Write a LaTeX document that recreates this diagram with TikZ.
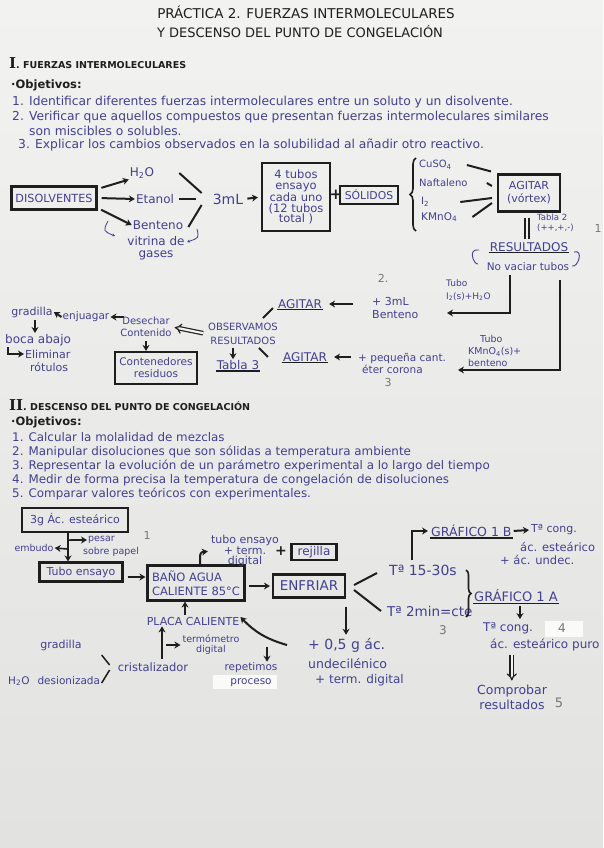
\documentclass[tikz,border=0pt]{standalone}
\usepackage{fontspec}
\setmainfont{DejaVu Sans}
\newfontfamily\romfont{DejaVu Serif}
\usetikzlibrary{positioning,arrows.meta,decorations.pathreplacing}

\definecolor{ink}{RGB}{66,64,145}
\definecolor{pen}{RGB}{30,30,30}
\definecolor{pencil}{RGB}{118,118,118}
\definecolor{paper}{RGB}{242,242,240}
\definecolor{paperdark}{RGB}{226,226,225}
\definecolor{patch}{RGB}{250,250,249}

\newcommand{\fs}[2]{\fontsize{#1}{#2}\selectfont}

\begin{document}
\begin{tikzpicture}[x=1pt,y=-1pt,
	txt/.style={text=ink,inner sep=1pt,font=\fs{11}{12}},
	obj/.style={txt,anchor=west,font=\fs{12.3}{13}},
	objb/.style={txt,anchor=west,font=\fs{11.9}{13}},
	head/.style={text=pen,inner sep=1pt,font=\bfseries\fs{9.5}{11}},
	box/.style={draw=pen,line width=2.1pt,text=ink,inner sep=2pt},
	arr/.style={draw=pen,line width=2pt,-{Stealth[length=6pt,width=7pt]}},
	ln/.style={draw=pen,line width=2pt},
	dbl/.style={draw=pen,double=paper,double distance=2.2pt,line width=1.2pt,-{Implies}},
	num/.style={text=pencil,inner sep=1pt,font=\fs{11}{12}},
	hook/.style={draw=ink,line width=0.8pt,-{Stealth[length=3pt,width=3pt]}},
]
	\shade[top color=paper,bottom color=paperdark] (0,0) rectangle (603,848);
	\useasboundingbox (0,0) rectangle (603,848);

	% titulo
	\node[text=pen,font=\fs{13.5}{14}] (tit1) at (306,12) {PRÁCTICA 2. FUERZAS INTERMOLECULARES};
	\node[text=pen,font=\fs{13}{14}] (tit2) at (300,32) {Y DESCENSO DEL PUNTO DE CONGELACIÓN};

	% parte I
	\node[head,anchor=west] (secI) at (8,63) {{\romfont\fs{15}{15}I}. FUERZAS INTERMOLECULARES};
	\node[head,anchor=west,font=\bfseries\fs{11.5}{12}] (objI) at (10,85) {·Objetivos:};
	\node[obj] (o11) at (11,102) {1. Identificar diferentes fuerzas intermoleculares entre un soluto y un disolvente.};
	\node[obj] (o12) at (11,117) {2. Verificar que aquellos compuestos que presentan fuerzas intermoleculares similares};
	\node[obj] (o13) at (28,131) {son miscibles o solubles.};
	\node[obj] (o14) at (17,145) {3. Explicar los cambios observados en la solubilidad al añadir otro reactivo.};

	\node[box,font=\fs{11.2}{12},minimum width=85pt,minimum height=23pt] (disolv) at (54,198) {DISOLVENTES};
	\node[txt,font=\fs{12}{12}] (h2o) at (142,173) {H\textsubscript{2}O};
	\node[txt,font=\fs{12}{12}] (etanol) at (155,199) {Etanol};
	\node[txt,font=\fs{12}{12}] (bent) at (158,225) {Benteno};
	\node[txt,align=center,font=\fs{12}{12}] (vitrina) at (156,248) {vitrina de\\gases};
	\draw[arr,shorten <=4pt] ([yshift=9pt]disolv.east) -- (h2o.south west);
	\draw[arr,shorten <=4pt] (disolv.east) -- (etanol.west);
	\draw[arr,shorten <=4pt] ([yshift=-10pt]disolv.east) -- (bent.west);
	\coordinate (cv1) at (108,221);
	\coordinate (cv2) at (197,229);
	\draw[hook] (cv1) .. controls (103,231) .. (115,236);
	\draw[hook] (cv2) .. controls (199,238) .. (187,242);

	\node[txt,font=\fs{14}{14}] (tresml) at (228,199) {3mL};
	\draw[ln] ([xshift=24pt]h2o.east) -- ([shift={(-10pt,6pt)}]tresml.west);
	\draw[ln] ([xshift=4pt]etanol.east) -- ([xshift=-16pt]tresml.west);
	\draw[ln] ([shift={(4pt,-2pt)}]bent.east) -- ([shift={(-10pt,-6pt)}]tresml.west);

	\node[box,align=center,font=\fs{11.5}{10.8},minimum width=68pt,minimum height=68pt] (tubos) at (296,197) {4 tubos\\ensayo\\cada uno\\(12 tubos\\total )};
	\draw[arr,shorten <=3pt,shorten >=3pt] (tresml.east) -- (tubos.west);
	\node[text=pen,font=\bfseries\fs{15}{15}] (plus1) at (336,195) {+};
	\node[box,font=\fs{10.8}{11},minimum width=58pt,minimum height=18pt] (solidos) at (369,195) {SÓLIDOS};
	\draw[ln,line width=1.6pt,decorate,decoration={brace,amplitude=6pt}] (416,231) -- (416,158);

	\node[txt,anchor=west,font=\fs{10}{10}] (cuso) at (418,165) {CuSO\textsubscript{4}};
	\node[txt,anchor=west,font=\fs{10}{10}] (naft) at (418,183) {Naftaleno};
	\node[txt,anchor=west,font=\fs{10}{10}] (iodo) at (420,202) {I\textsubscript{2}};
	\node[txt,anchor=west,font=\fs{10.5}{10}] (kmno) at (420,217) {KMnO\textsubscript{4}};

	\node[box,align=center,font=\fs{11}{13},minimum width=62pt,minimum height=37pt] (agit1) at (529,193) {AGITAR\\(vórtex)};
	\draw[ln] ([xshift=14pt]cuso.east) -- ([shift={(-6pt,2pt)}]agit1.north west);
	\draw[ln] ([xshift=18pt]naft.east) -- ([shift={(-5pt,7pt)}]agit1.west);
	\draw[ln] ([xshift=30pt]iodo.east) -- ([shift={(-5pt,-5pt)}]agit1.west);
	\draw[ln] ([xshift=14pt]kmno.east) -- ([shift={(-5pt,-10pt)}]agit1.west);

	\node[txt,anchor=west,align=left,font=\fs{8.5}{10}] (tab2) at (536,223) {Tabla 2\\(++,+,-)};
	\node[num] (n1) at (598,228) {1};
	\node[txt,font=\fs{12}{12}] (result) at (529,247) {RESULTADOS};
	\draw[ln,line width=1.5pt] (result.south west) -- (result.south east);
	\node[txt,font=\fs{10.5}{10}] (novac) at (528,267) {No vaciar tubos};
	\draw[draw=pen,double=paper,double distance=2.5pt,line width=1.3pt,shorten <=5pt,shorten >=2pt] ([xshift=-2pt]agit1.south) -- ([xshift=-2pt]result.north);
	\coordinate (pl) at (479,250);
	\coordinate (pr) at (574,252);
	\draw[draw=ink,line width=0.9pt] (pl) .. controls +(-12pt,2pt) and +(-4pt,-1pt) .. ([shift={(-1pt,-14pt)}]pl);
	\draw[draw=ink,line width=0.9pt] (pr) .. controls +(10pt,3pt) and +(6pt,-2pt) .. ([shift={(-2pt,-14pt)}]pr);

	% segunda fila
	\node[num] (n2) at (383,278) {2.};
	\node[txt,anchor=west,align=left,font=\fs{9}{13}] (tuboI) at (445,290) {Tubo\\I\textsubscript{2}(s)+H\textsubscript{2}O};
	\node[txt,anchor=west,align=left,font=\fs{11}{13}] (mas3) at (371,308) {+ 3mL\\Benteno};
	\coordinate (fin2) at (447,313);
	\draw[arr] ([shift={(-18pt,-3pt)}]novac.south) |- (fin2);
	\node[txt,font=\fs{12}{12}] (agit2) at (300,304) {AGITAR};
	\draw[ln,line width=1.5pt] (agit2.south west) -- (agit2.south east);
	\draw[arr,shorten <=18pt,shorten >=6pt] (mas3.west |- agit2) -- (agit2.east);

	\node[txt,anchor=west,align=left,font=\fs{9.5}{12}] (tuboK) at (467,351) {\hspace*{12pt}Tubo\\KMnO\textsubscript{4}(s)+\\benteno};
	\node[txt,anchor=west,align=left,font=\fs{10.5}{12}] (eter) at (357,363) {+ pequeña cant.\\\hspace*{4pt}éter corona};
	\node[num] (n3) at (388,382) {3};
	\coordinate (fin3) at (458,370);
	\draw[arr] ([shift={(32pt,-8pt)}]novac.south) |- (fin3);
	\node[txt,font=\fs{12}{12}] (agit3) at (305,357) {AGITAR};
	\draw[ln,line width=1.5pt] (agit3.south west) -- (agit3.south east);
	\draw[arr,shorten <=6pt,shorten >=6pt] (eter.west |- agit3) -- (agit3.east);

	\node[txt,align=center,font=\fs{10}{14}] (observ) at (243,334) {OBSERVAMOS\\RESULTADOS};
	\draw[ln] ([shift={(-16pt,4pt)}]observ.north east) -- ([shift={(-4pt,-4pt)}]agit2.west);
	\draw[ln] ([shift={(-20pt,-2pt)}]observ.south east) -- ([xshift=-14pt]agit3.west);
	\node[txt,font=\fs{12}{12}] (tab3) at (238,365) {Tabla 3};
	\draw[ln,line width=1.5pt] (tab3.south west) -- (tab3.south east);
	\draw[arr,shorten <=2pt] ([xshift=-10pt]observ.south) -- ([xshift=-5pt]tab3.north);

	\node[txt,align=center,font=\fs{10}{12}] (desech) at (146,327) {Desechar\\Contenido};
	\draw[dbl,shorten <=4pt,shorten >=2pt] (observ.west) -- (desech.east);
	\node[txt,font=\fs{10.5}{12}] (enjuag) at (86,317) {enjuagar};
	\draw[arr] ([xshift=5pt]desech.west |- enjuag) -- (enjuag.east);
	\node[txt,font=\fs{11}{12}] (gradI) at (32,312) {gradilla};
	\draw[arr] (enjuag.west) -- (gradI.east);
	\node[txt,anchor=west,font=\fs{12}{12}] (boca) at (4,340) {boca abajo};
	\draw[arr,shorten <=1pt] ([xshift=3pt]gradI.south) -- ([xshift=3pt]gradI.south |- boca.north);
	\node[txt,anchor=west,font=\fs{11}{12}] (elim) at (24,354) {Eliminar};
	\node[txt,anchor=west,font=\fs{11}{12}] (rotul) at (29,367) {rótulos};
	\draw[arr,line width=1.5pt] ([xshift=4pt]boca.south west) |- (elim.west);
	\node[box,align=center,font=\fs{10.5}{12},minimum width=82pt,minimum height=32pt] (resid) at (156,368) {Contenedores\\residuos};
	\draw[arr,shorten <=3pt] (desech.south) -- (desech.south |- resid.north);

	% parte II
	\node[head,anchor=west] (secII) at (8,405) {{\romfont\fs{15}{15}II}. DESCENSO DEL PUNTO DE CONGELACIÓN};
	\node[head,anchor=west,font=\bfseries\fs{11.5}{12}] (objII) at (10,422) {·Objetivos:};
	\node[objb] (o21) at (11,437) {1. Calcular la molalidad de mezclas};
	\node[objb] (o22) at (11,452) {2. Manipular disoluciones que son sólidas a temperatura ambiente};
	\node[objb] (o23) at (11,466) {3. Representar la evolución de un parámetro experimental a lo largo del tiempo};
	\node[objb] (o24) at (11,480) {4. Medir de forma precisa la temperatura de congelación de disoluciones};
	\node[objb] (o25) at (11,494) {5. Comparar valores teóricos con experimentales.};

	\node[box,font=\fs{11}{12},minimum width=106pt,minimum height=24pt] (acido) at (75,520) {3g Ác. esteárico};
	\node[box,font=\fs{11}{12},minimum width=83pt,minimum height=19pt] (tubo) at (81,572) {Tubo ensayo};
	\draw[arr] ([xshift=-7pt]acido.south) -- ([xshift=-7pt]acido.south |- tubo.north);
	\node[txt,anchor=west,font=\fs{9.5}{10}] (pesar) at (87,540) {pesar};
	\node[txt,anchor=west,font=\fs{9.5}{10}] (papel) at (82,552) {sobre papel};
	\node[txt,font=\fs{9.5}{10}] (embudo) at (34,548) {embudo};
	\draw[arr,line width=1.6pt] ([shift={(-7pt,-7pt)}]acido.south) -- (pesar.west);
	\draw[arr,line width=1.6pt] ([shift={(-7pt,-16pt)}]acido.south) -- (embudo.east);
	\node[num] (m1) at (147,535) {1};

	\node[box,align=left,font=\fs{11.5}{14},minimum width=97pt,minimum height=35pt] (bano) at (196,583) {BAÑO AGUA\\CALIENTE 85°C};
	\draw[arr,shorten <=4pt,shorten >=1pt] ([yshift=-5pt]tubo.east) -- ([yshift=-5pt]tubo.east -| bano.west);
	\node[txt,align=center,font=\fs{11}{9.5}] (tuboterm) at (245,551) {tubo ensayo\\+ term.\\digital};
	\draw[arr,shorten >=2pt] ([xshift=4pt]bano.north) .. controls +(0pt,12pt) .. (tuboterm.west);
	\node[text=pen,font=\bfseries\fs{14}{14}] (plus2) at (281,551) {+};
	\node[box,font=\fs{12}{12},minimum width=45pt,minimum height=15pt] (rejilla) at (314,552) {rejilla};

	\node[box,font=\fs{13.5}{12},minimum width=72pt,minimum height=23pt] (enfriar) at (309,586) {ENFRIAR};
	\draw[arr,shorten <=3pt,shorten >=2pt] (bano.east |- enfriar) -- (enfriar.west);
	\node[txt,anchor=west,font=\fs{14}{12}] (t15) at (388,570) {Tª 15-30s};
	\node[txt,anchor=west,font=\fs{13.5}{12}] (t2) at (386,611) {Tª 2min=cte};
	\draw[ln] ([shift={(8pt,1pt)}]enfriar.east) -- ([shift={(-11pt,-3pt)}]t15.west);
	\draw[ln] ([shift={(8pt,-4pt)}]enfriar.east) -- ([xshift=-5pt]t2.west);
	\node[num,font=\fs{12}{12}] (m3) at (443,630) {3};
	\draw[ln,line width=1.6pt,decorate,decoration={brace,amplitude=5pt}] (466,570) -- (466,617);

	\node[txt,anchor=west,font=\fs{12.5}{12}] (g1b) at (430,531) {GRÁFICO 1 B};
	\draw[ln,line width=1.5pt] (g1b.south west) -- (g1b.south east);
	\draw[arr,shorten <=4pt,shorten >=2pt] ([xshift=24pt]t15.north west) |- (g1b.west);
	\node[txt,anchor=west,font=\fs{11}{12}] (tcong1) at (530,530) {Tª cong.};
	\node[txt,anchor=west,font=\fs{11.5}{12}] (ester1) at (519,547) {ác. esteárico};
	\node[txt,anchor=west,font=\fs{11.5}{12}] (undec1) at (499,560) {+ ác. undec.};
	\draw[arr,shorten <=1pt,shorten >=1pt] (g1b.east) -- (tcong1.west);

	\node[txt,anchor=west,font=\fs{13}{12}] (g1a) at (473,596) {GRÁFICO 1 A};
	\draw[ln,line width=1.5pt] (g1a.south west) -- (g1a.south east);
	\fill[patch] (545,621) rectangle (583,637);
	\node[txt,anchor=west,font=\fs{12}{12}] (tcong2) at (482,628) {Tª cong.};
	\node[num,font=\fs{12}{12}] (m4) at (562,628) {4};
	\draw[arr,shorten <=3pt,shorten >=2pt] ([xshift=4pt]g1a.south) -- ([xshift=4pt]g1a.south |- tcong2.north);
	\node[txt,anchor=west,font=\fs{12}{12}] (puro) at (489,645) {ác. esteárico puro};
	\node[txt,align=center,font=\fs{12.5}{15}] (compr) at (512,697) {Comprobar\\resultados};
	\node[num,font=\fs{13}{12}] (m5) at (559,703) {5};
	\draw[dbl,shorten <=3pt,shorten >=3pt] ([xshift=-33pt]puro.south) -- ([xshift=-33pt]puro.south |- compr.north);

	\node[txt,anchor=west,font=\fs{14}{12}] (undA) at (307,645) {+ 0,5 g ác.};
	\node[txt,anchor=west,font=\fs{12.5}{12}] (undB) at (307,664) {undecilénico};
	\node[txt,anchor=west,font=\fs{12}{12}] (undC) at (314,680) {+ term. digital};
	\draw[arr,shorten <=8pt,shorten >=2pt] (enfriar.south east) -- (enfriar.south east |- undA.north);

	\node[txt,font=\fs{11}{12}] (placa) at (193,621) {PLACA CALIENTE};
	\draw[arr] ([shift={(-20pt,0pt)}]undA.west) to[bend left=15] ([yshift=4pt]placa.east);
	\draw[arr,shorten <=1pt] ([xshift=-8pt]placa.north) -- ([xshift=-8pt]placa.north |- bano.south);
	\node[txt,font=\fs{11.5}{12}] (cristal) at (153,667) {cristalizador};
	\draw[arr,shorten <=2pt] ([xshift=9pt]cristal.north) -- ([xshift=9pt]cristal.north |- placa.south);
	\node[txt,align=center,font=\fs{9.5}{10}] (termo) at (211,645) {termómetro\\digital};
	\draw[arr,line width=1.6pt,shorten >=1pt] ([xshift=13pt]cristal.north |- termo.west) -- (termo.west);
	\fill[patch] (213,675) rectangle (277,689);
	\node[txt,align=center,font=\fs{10.5}{14}] (repet) at (251,675) {repetimos\\proceso};
	\coordinate (rp) at (267,647);
	\draw[arr] (rp) -- (rp |- repet.north);

	\node[txt,font=\fs{11}{12}] (gradII) at (61,645) {gradilla};
	\node[txt,anchor=west,font=\fs{10.5}{12}] (h2oII) at (7,681) {H\textsubscript{2}O\hspace{8pt}desionizada};
	\draw[ln,line width=1.5pt] ([shift={(-15pt,12pt)}]cristal.west) -- ([shift={(-7pt,2pt)}]cristal.west);
	\draw[ln,line width=1.5pt] ([shift={(-7pt,-3pt)}]cristal.west) -- ([shift={(-15pt,-16pt)}]cristal.west);
\end{tikzpicture}
\end{document}
